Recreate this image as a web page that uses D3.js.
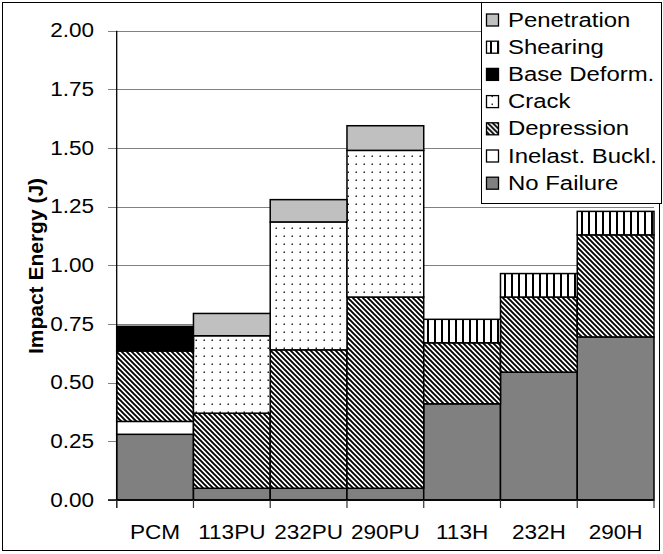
<!DOCTYPE html>
<html>
<head>
<meta charset="utf-8">
<script src="https://cdn.jsdelivr.net/npm/d3@7"></script>
<style>
  html, body { margin: 0; padding: 0; background: #fff; }
  svg { display: block; }
  text { font-family: "Liberation Sans", Arial, sans-serif; fill: #000; }
</style>
</head>
<body>
<svg id="chart" width="663" height="554"></svg>
<script>
// ---- data ----
const categories = ["PCM", "113PU", "232PU", "290PU", "113H", "232H", "290H"];
const seriesNames = ["No Failure", "Inelast. Buckl.", "Depression", "Crack", "Base Deform.", "Shearing", "Penetration"];
const noFailure   = [0.28, 0.05, 0.05, 0.05, 0.41, 0.545, 0.695];
const inelastBuckl = [0.055, 0, 0, 0, 0, 0, 0];
const depression  = [0.30, 0.32, 0.59, 0.815, 0.26, 0.32, 0.435];
const crack       = [0, 0.33, 0.545, 0.625, 0, 0, 0];
const baseDeform  = [0.105, 0, 0, 0, 0, 0, 0];
const shearing    = [0, 0, 0, 0, 0.10, 0.10, 0.10];
const penetration = [0, 0.095, 0.095, 0.105, 0, 0, 0];
const yTicks = [0, 0.25, 0.5, 0.75, 1.0, 1.25, 1.5, 1.75, 2.0];
const yTitle = "Impact Energy (J)";

(function () {
const seriesValues = [noFailure, inelastBuckl, depression, crack, baseDeform, shearing, penetration];
const table = categories.map((c, i) => {
  const row = { cat: c };
  seriesNames.forEach((s, j) => row[s] = seriesValues[j][i]);
  return row;
});

// ---- layout ----
const svg = d3.select("#chart");
const pLeft = 116.7, pRight = 654, pTop = 30.7, pBottom = 500;

const x = d3.scaleBand().domain(categories).range([pLeft, pRight]).paddingInner(0).paddingOuter(0);
const y = d3.scaleLinear().domain([0, 2]).range([pBottom, pTop]);

// ---- patterns ----
const defs = svg.append("defs");
const pDep = defs.append("pattern").attr("id", "pDep").attr("patternUnits", "userSpaceOnUse")
  .attr("width", 5).attr("height", 5);
pDep.append("rect").attr("width", 5).attr("height", 5).attr("fill", "#fff");
pDep.append("path").attr("d", "M-1,-1L6,6M-1,4L1,6M4,-1L6,1")
  .attr("stroke", "#000").attr("stroke-width", 1.9).attr("fill", "none");

const pCrack = defs.append("pattern").attr("id", "pCrack").attr("patternUnits", "userSpaceOnUse")
  .attr("width", 8).attr("height", 8);
pCrack.append("rect").attr("width", 8).attr("height", 8).attr("fill", "#fff");
pCrack.append("rect").attr("x", 3.5).attr("y", 3.5).attr("width", 1.5).attr("height", 1.5).attr("fill", "#222");

const pShear = defs.append("pattern").attr("id", "pShear").attr("patternUnits", "userSpaceOnUse")
  .attr("width", 7).attr("height", 7);
pShear.append("rect").attr("width", 7).attr("height", 7).attr("fill", "#fff");
pShear.append("rect").attr("x", 0).attr("y", 0).attr("width", 2).attr("height", 7).attr("fill", "#000");

const fills = {
  "No Failure": "#808080",
  "Inelast. Buckl.": "#ffffff",
  "Depression": "url(#pDep)",
  "Crack": "url(#pCrack)",
  "Base Deform.": "#000000",
  "Shearing": "url(#pShear)",
  "Penetration": "#c0c0c0"
};

// ---- outer border ----
svg.append("rect").attr("x", 2.5).attr("y", 2.5).attr("width", 657).attr("height", 548)
  .attr("fill", "none").attr("stroke", "#000").attr("stroke-width", 1);

// ---- gridlines + y ticks ----
svg.append("g").selectAll("line").data(yTicks).join("line")
  .attr("x1", 108).attr("x2", pRight)
  .attr("y1", d => Math.round(y(d)) + 0.5).attr("y2", d => Math.round(y(d)) + 0.5)
  .attr("stroke", "#808080").attr("stroke-width", 1);

// ---- bars ----
const stacked = d3.stack().keys(seriesNames)(table);
const barG = svg.append("g");
stacked.forEach(layer => {
  barG.append("g").selectAll("rect")
    .data(layer.filter(d => d[1] - d[0] > 1e-9))
    .join("rect")
    .attr("x", d => x(d.data.cat))
    .attr("width", x.bandwidth())
    .attr("y", d => y(d[1]))
    .attr("height", d => y(d[0]) - y(d[1]))
    .attr("fill", fills[layer.key])
    .attr("stroke", "#000").attr("stroke-width", 1.5);
});

// ---- axes ----
svg.append("line").attr("x1", pLeft).attr("x2", pLeft).attr("y1", pTop).attr("y2", pBottom + 8)
  .attr("stroke", "#000").attr("stroke-width", 1.3);
svg.append("line").attr("x1", 108).attr("x2", pRight).attr("y1", pBottom).attr("y2", pBottom)
  .attr("stroke", "#000").attr("stroke-width", 1.3);
const bounds = categories.map(c => x(c)).concat([pRight]);
svg.append("g").selectAll("line").data(bounds).join("line")
  .attr("x1", d => d).attr("x2", d => d).attr("y1", pBottom).attr("y2", pBottom + 8)
  .attr("stroke", "#333").attr("stroke-width", 1.2);

const fmt = d3.format(".2f");
svg.append("g").selectAll("text").data(yTicks).join("text")
  .attr("transform", d => `translate(94,${y(d)}) scale(1.1,1)`)
  .attr("text-anchor", "end").attr("dominant-baseline", "central")
  .style("font-size", "20.5px").text(d => fmt(d));

svg.append("g").selectAll("text").data(categories).join("text")
  .attr("transform", d => `translate(${x(d) + x.bandwidth() / 2},539) scale(1.1,1)`)
  .attr("text-anchor", "middle")
  .style("font-size", "20.5px").text(d => d);

svg.append("text")
  .attr("transform", `translate(43,266) rotate(-90)`)
  .attr("text-anchor", "middle")
  .style("font-size", "21px").style("font-weight", "bold")
  .text(yTitle);

// ---- legend ----
const legend = svg.append("g");
legend.append("rect").attr("x", 481.5).attr("y", 2.5).attr("width", 180).attr("height", 201)
  .attr("fill", "#fff").attr("stroke", "#000").attr("stroke-width", 1);
const legendItems = seriesNames.slice().reverse();
const li = legend.selectAll("g.item").data(legendItems).join("g").attr("class", "item")
  .attr("transform", (d, i) => `translate(0,${26.5 + i * 27.2})`);
li.append("rect").attr("x", 486.5).attr("y", -12.5).attr("width", 12).attr("height", 12)
  .attr("fill", d => fills[d]).attr("stroke", "#000").attr("stroke-width", 1.3);
li.append("text").attr("transform", "translate(508,0) scale(1.14,1)")
  .style("font-size", "21px").text(d => d);
})();
</script>
</body>
</html>
